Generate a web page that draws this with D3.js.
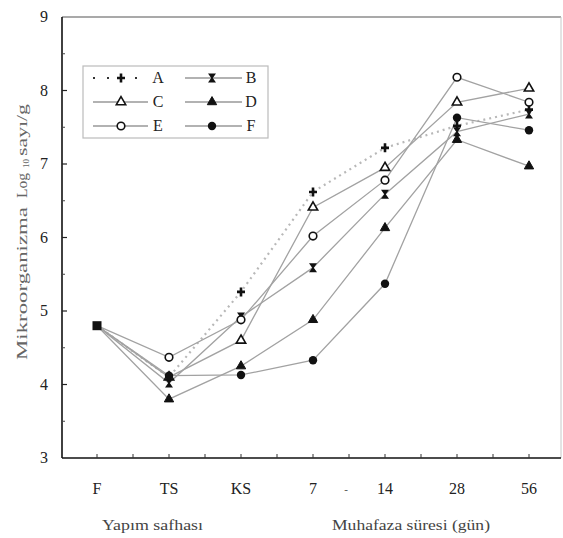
<!DOCTYPE html>
<html>
<head>
<meta charset="utf-8">
<script src="https://cdn.jsdelivr.net/npm/d3@7"></script>
<style>
  html, body { margin: 0; padding: 0; background: #fff; }
  svg { display: block; }
  text { font-family: "Liberation Serif", "Times New Roman", "DejaVu Serif", serif; }
</style>
</head>
<body>
<svg id="chart" width="563" height="538"></svg>
<script>
// Sampling stages: production phase (F, TS, KS) then storage days
const categories = ["F", "TS", "KS", "7", "14", "28", "56"];
const seriesNames = ["A", "B", "C", "D", "E", "F"];

// log10 counts (cfu/g) per stage
const valuesA = [4.80, 4.10, 5.26, 6.62, 7.22, 7.52, 7.74];
const valuesB = [4.80, 4.02, 4.92, 5.59, 6.59, 7.44, 7.68];
const valuesC = [4.80, 4.10, 4.60, 6.41, 6.95, 7.84, 8.03];
const valuesD = [4.80, 3.80, 4.25, 4.88, 6.13, 7.33, 6.97];
const valuesE = [4.80, 4.37, 4.88, 6.02, 6.78, 8.18, 7.84];
const valuesF = [4.80, 4.12, 4.13, 4.33, 5.37, 7.63, 7.46];

const yTicks = [3, 4, 5, 6, 7, 8, 9];
const yMinorTicks = [3.5, 4.5, 5.5, 6.5, 7.5, 8.5];

const seriesValues = [valuesA, valuesB, valuesC, valuesD, valuesE, valuesF];

const svg = d3.select("#chart");
const plotLeft = 62, plotRight = 561, plotTop = 17, plotBottom = 458;

const x = d3.scalePoint().domain(categories).range([61, 565]).padding(0.5);
const y = d3.scaleLinear().domain([3, 9]).range([plotBottom, plotTop]);

// Marker shapes
const hourglass = "M-4,-4.5 L4,-4.5 L0.8,0 L4,4.5 L-4,4.5 L-0.8,0 Z";
const plus = "M-1.3,-4.5 L1.3,-4.5 L1.3,-1.3 L4,-1.3 L4,1.3 L1.3,1.3 L1.3,4.5 L-1.3,4.5 L-1.3,1.3 L-4,1.3 L-4,-1.3 L-1.3,-1.3 Z";
const tri = d3.symbol().type(d3.symbolTriangle).size(38)();

const markerStyle = {
  A: { d: plus, fill: "#111", stroke: "none" },
  B: { d: hourglass, fill: "#111", stroke: "none" },
  C: { d: tri, fill: "#fff", stroke: "#111", sw: 1.6 },
  D: { d: tri, fill: "#111", stroke: "#111", sw: 1 },
  E: { circle: true, r: 3.8, fill: "#fff", stroke: "#111", sw: 1.6 },
  F: { circle: true, r: 4.2, fill: "#111", stroke: "none" }
};

function drawMarker(g, name, cx, cy) {
  const m = markerStyle[name];
  if (m.circle) {
    g.append("circle").attr("cx", cx).attr("cy", cy).attr("r", m.r)
      .attr("fill", m.fill).attr("stroke", m.stroke).attr("stroke-width", m.sw || 0);
  } else {
    g.append("path").attr("d", m.d).attr("transform", `translate(${cx},${cy})`)
      .attr("fill", m.fill).attr("stroke", m.stroke).attr("stroke-width", m.sw || 0);
  }
}

// Frame: top and right edges
svg.append("line").attr("x1", plotLeft).attr("x2", plotRight).attr("y1", plotTop).attr("y2", plotTop)
  .attr("stroke", "#555").attr("stroke-width", 1.2);
svg.append("line").attr("x1", plotRight).attr("x2", plotRight).attr("y1", plotTop).attr("y2", plotBottom)
  .attr("stroke", "#c8c8c8").attr("stroke-width", 1);

// Y axis with inward ticks
const yAxisG = svg.append("g");
yAxisG.append("line").attr("x1", plotLeft).attr("x2", plotLeft).attr("y1", plotTop).attr("y2", plotBottom)
  .attr("stroke", "#111").attr("stroke-width", 1.6);
yAxisG.selectAll(".ymaj").data(yTicks.slice(1, -1)).join("line")
  .attr("x1", plotLeft).attr("x2", plotLeft + 5).attr("y1", d => y(d)).attr("y2", d => y(d))
  .attr("stroke", "#222").attr("stroke-width", 1.2);
yAxisG.selectAll(".ymin").data(yMinorTicks).join("line")
  .attr("x1", plotLeft).attr("x2", plotLeft + 3).attr("y1", d => y(d)).attr("y2", d => y(d))
  .attr("stroke", "#444").attr("stroke-width", 1);
yAxisG.selectAll(".ylab").data(yTicks).join("text")
  .attr("x", 44).attr("y", d => y(d) + 5).attr("text-anchor", "middle")
  .attr("font-size", 16).attr("fill", "#222").text(d => d);

// X axis with inward ticks at stages and midpoints
const xAxisG = svg.append("g");
xAxisG.append("line").attr("x1", plotLeft).attr("x2", plotRight).attr("y1", plotBottom).attr("y2", plotBottom)
  .attr("stroke", "#111").attr("stroke-width", 1.6);
const step = x.step();
const xTickPos = [];
categories.forEach(c => { xTickPos.push(x(c)); xTickPos.push(x(c) + step / 2); });
xAxisG.selectAll(".xt").data(xTickPos.filter(p => p < plotRight - 4)).join("line")
  .attr("x1", d => d).attr("x2", d => d).attr("y1", plotBottom).attr("y2", plotBottom - 4)
  .attr("stroke", "#333").attr("stroke-width", 1);
xAxisG.selectAll(".xlab").data(categories).join("text")
  .attr("x", d => x(d)).attr("y", 494).attr("text-anchor", "middle")
  .attr("font-size", 16).attr("fill", "#222").text(d => d);
xAxisG.append("text").attr("x", (x("7") + x("14")) / 2 - 3).attr("y", 493)
  .attr("text-anchor", "middle").attr("font-size", 11).attr("fill", "#444").text("-");

// Axis titles
svg.append("text").attr("x", 102).attr("y", 530).attr("textLength", 101)
  .attr("lengthAdjust", "spacingAndGlyphs")
  .attr("font-size", 15).attr("fill", "#444").text("Yapım safhası");
svg.append("text").attr("x", 332).attr("y", 530).attr("textLength", 158)
  .attr("lengthAdjust", "spacingAndGlyphs")
  .attr("font-size", 15).attr("fill", "#444").text("Muhafaza süresi (gün)");

// Vertical title, laid out along the rotated axis (local x = -page y)
const yt = svg.append("g").attr("transform", "translate(27,0) rotate(-90)")
  .attr("fill", "#666");
yt.append("text").attr("x", -360).attr("y", 0).attr("textLength", 153)
  .attr("lengthAdjust", "spacingAndGlyphs").attr("font-size", 14).text("Mikroorganizma");
yt.append("text").attr("x", -198).attr("y", 0).attr("textLength", 25)
  .attr("lengthAdjust", "spacingAndGlyphs").attr("font-size", 14).text("Log");
yt.append("text").attr("x", -168).attr("y", 2).attr("font-size", 9).text("10");
yt.append("text").attr("x", -156).attr("y", 0).attr("textLength", 52)
  .attr("lengthAdjust", "spacingAndGlyphs").attr("font-size", 14).text("sayı/g");

// Series lines
const line = d3.line().x((d, i) => x(categories[i])).y(d => y(d));
const plotG = svg.append("g");
seriesNames.forEach((name, si) => {
  const p = plotG.append("path").datum(seriesValues[si]).attr("d", line)
    .attr("fill", "none");
  if (name === "A") {
    p.attr("stroke", "#b8b8b8").attr("stroke-width", 2.2).attr("stroke-dasharray", "2,4");
  } else {
    p.attr("stroke", "#a2a2a2").attr("stroke-width", 1.3);
  }
});
seriesNames.forEach((name, si) => {
  seriesValues[si].forEach((v, i) => {
    if (i === 0) return;
    drawMarker(plotG, name, x(categories[i]), y(v));
  });
});
// Common starting point drawn as a filled square
plotG.append("rect").attr("x", x("F") - 4.5).attr("y", y(valuesA[0]) - 4.5)
  .attr("width", 9).attr("height", 9).attr("fill", "#111");

// Legend
const lg = svg.append("g");
lg.append("rect").attr("x", 83).attr("y", 66).attr("width", 185).attr("height", 72)
  .attr("fill", "#fff").attr("stroke", "#bbb").attr("stroke-width", 1.2);
const legendRows = [78, 102, 126];
const legendCols = [{ x0: 93, x1: 148, mx: 121, tx: 158 }, { x0: 185, x1: 242, mx: 212, tx: 251 }];
seriesNames.forEach((name, i) => {
  const col = legendCols[i % 2], ry = legendRows[Math.floor(i / 2)];
  const l = lg.append("line").attr("x1", col.x0).attr("x2", col.x1).attr("y1", ry).attr("y2", ry);
  if (name === "A") {
    l.attr("stroke", "#333").attr("stroke-width", 2).attr("stroke-dasharray", "2,12");
  } else {
    l.attr("stroke", "#999").attr("stroke-width", 1.3);
  }
  drawMarker(lg, name, col.mx, ry);
  lg.append("text").attr("x", col.tx).attr("y", ry + 5).attr("text-anchor", "middle")
    .attr("font-size", 16).attr("fill", "#222").text(name);
});
</script>
</body>
</html>
